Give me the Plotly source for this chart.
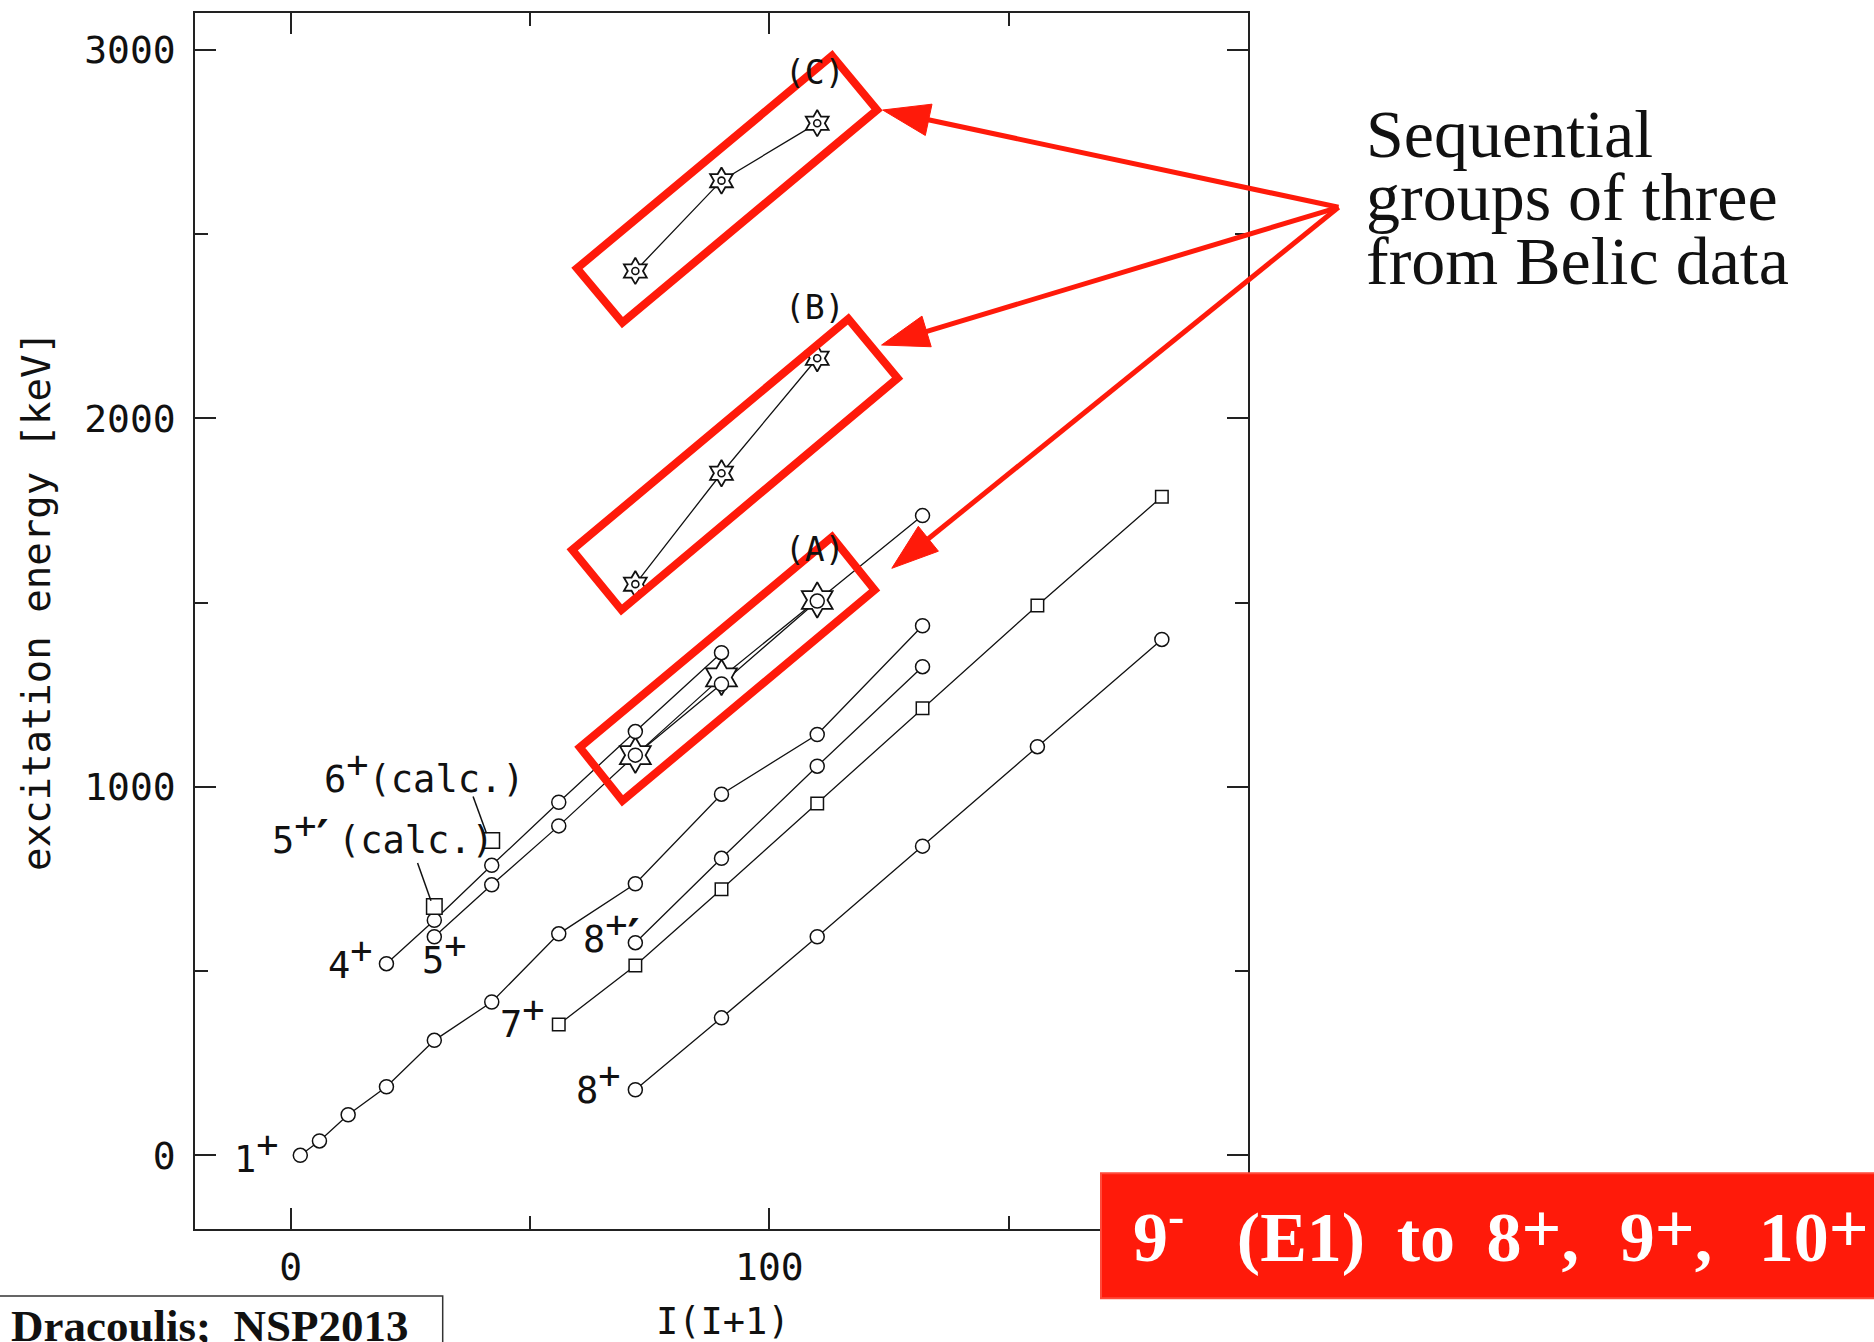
import math
import plotly.graph_objects as go

# ---------------------------------------------------------------------------
# Level energies (keV) versus I(I+1) for the 180Ta bands
# ---------------------------------------------------------------------------
band_1_x = [2, 6, 12, 20, 30, 42, 56, 72, 90, 110, 132]          # K=1+ band
band_1_e = [0, 39, 110, 186, 312, 416, 601, 737, 980, 1142, 1437]

band_4_x = [20, 30, 42, 56, 72, 90]                                # 4+ band
band_4_e = [520, 638, 787, 958, 1150, 1364]

band_5_x = [30, 42, 56, 72, 90, 110, 132]                          # 5+ band
band_5_e = [593, 734, 894, 1086, 1279, 1504, 1736]

band_8p_x = [72, 90, 110, 132]                                     # 8+' band
band_8p_e = [577, 806, 1056, 1326]

band_7_x = [56, 72, 90, 110, 132, 156, 182]                        # 7+ band
band_7_e = [355, 515, 722, 955, 1213, 1492, 1787]

band_8_x = [72, 90, 110, 132, 156, 182]                            # 8+ band
band_8_e = [178, 373, 593, 839, 1109, 1400]

calc_x = [30, 42]                                                  # 5+' and 6+ (calc.)
calc_e = [675, 854]

group_a_x = [72, 90, 110]                                          # Belic groups
group_a_e = [1086, 1297, 1507]
group_b_x = [72, 90, 110]
group_b_e = [1550, 1851, 2163]
group_c_x = [72, 90, 110]
group_c_e = [2400, 2645, 2801]

x_tick_vals = [0, 100]
x_tick_text = ["0", "100"]
y_tick_vals = [0, 1000, 2000, 3000]
y_tick_text = ["0", "1000", "2000", "3000"]

# ---------------------------------------------------------------------------
# Page geometry and styles
# ---------------------------------------------------------------------------
FIG_W, FIG_H = 1874, 1342
M_L, M_R, M_T, M_B = 195, 626, 13, 113
PLOT_W = FIG_W - M_L - M_R
PLOT_H = FIG_H - M_T - M_B

RED = "#FF1A0A"
INK = "#111111"
MONO = "DejaVu Sans Mono"
SERIF = "Liberation Serif"


def paper(x, y):
    """Page pixel position -> paper coordinates."""
    return (x - M_L) / PLOT_W, (M_T + PLOT_H - y) / PLOT_H


def up(t, shift=15):
    """Raised, full-size superscript."""
    return f"<span style='baseline-shift:{shift}px'>{t}</span>"


# prime mark padded to one monospace cell
PRIME = "<span style='font-family:DejaVu Sans;font-size:46px;font-weight:bold'>′\u2009</span>"

fig = go.Figure()

# connecting lines first, markers on top
line_sets = [
    (band_1_x, band_1_e), (band_4_x, band_4_e), (band_5_x, band_5_e),
    (band_8p_x, band_8p_e), (band_7_x, band_7_e), (band_8_x, band_8_e),
    (group_a_x, group_a_e), (group_b_x, group_b_e), (group_c_x, group_c_e),
]
for xs, es in line_sets:
    fig.add_trace(go.Scatter(x=xs, y=es, mode="lines",
                             line=dict(color=INK, width=1.3),
                             hoverinfo="skip"))

# six-pointed stars for the Belic groups
for xs, es, sz in [(group_a_x, group_a_e, 27), (group_b_x, group_b_e, 20),
                   (group_c_x, group_c_e, 20)]:
    fig.add_trace(go.Scatter(x=xs, y=es, mode="markers",
                             marker=dict(symbol="hexagram", size=sz, color="white",
                                         line=dict(color=INK, width=1.8))))
# ring at the centre of the small stars
for xs, es in [(group_b_x, group_b_e), (group_c_x, group_c_e)]:
    fig.add_trace(go.Scatter(x=xs, y=es, mode="markers",
                             marker=dict(symbol="circle", size=7, color="white",
                                         line=dict(color=INK, width=1.6))))

# circles and squares for the bands
for xs, es, sym, sz in [
    (band_1_x, band_1_e, "circle", 14), (band_4_x, band_4_e, "circle", 14),
    (band_5_x, band_5_e, "circle", 14), (band_8p_x, band_8p_e, "circle", 14),
    (band_8_x, band_8_e, "circle", 14), (band_7_x, band_7_e, "square", 12.5),
    (calc_x, calc_e, "square", 15.5),
]:
    fig.add_trace(go.Scatter(x=xs, y=es, mode="markers",
                             marker=dict(symbol=sym, size=sz, color="white",
                                         line=dict(color=INK, width=1.5))))

shapes = []

# red frames round the three groups (corner points in data units)
frames = [
    [(113.1, 2984), (122.5, 2837), (69.3, 2260), (59.8, 2407)],
    [(116.5, 2270), (126.8, 2109), (69.1, 1480), (58.8, 1643)],
    [(113.1, 1678), (122.0, 1534), (69.3, 962), (60.4, 1107)],
]
for pts in frames:
    path = "M " + " L ".join(f"{a},{b}" for a, b in pts) + " Z"
    shapes.append(dict(type="path", xref="x", yref="y", path=path,
                       line=dict(color=RED, width=8)))

# leader lines for the calculated levels
for x0, y0, x1, y1 in [(26.5, 793, 29.3, 691), (38.1, 974, 40.9, 874)]:
    shapes.append(dict(type="line", xref="x", yref="y", x0=x0, y0=y0, x1=x1, y1=y1,
                       line=dict(color=INK, width=1.5)))

# arrows from the note to the three frames
origin = (1338.5, 207.3)
tips = [(882.7, 110.0), (881.6, 345.0), (891.8, 568.3)]
head_len, head_half = 47.0, 16.0
for tx, ty in tips:
    dx, dy = tx - origin[0], ty - origin[1]
    n = math.hypot(dx, dy)
    ux, uy = dx / n, dy / n
    bx, by = tx - ux * head_len, ty - uy * head_len
    ex, ey = tx - ux * (head_len - 4), ty - uy * (head_len - 4)
    p0, p1 = paper(*origin), paper(ex, ey)
    shapes.append(dict(type="line", xref="paper", yref="paper",
                       x0=p0[0], y0=p0[1], x1=p1[0], y1=p1[1],
                       line=dict(color=RED, width=5)))
    c1 = paper(bx - uy * head_half, by + ux * head_half)
    c2 = paper(bx + uy * head_half, by - ux * head_half)
    t = paper(tx, ty)
    shapes.append(dict(type="path", xref="paper", yref="paper",
                       path=f"M {t[0]},{t[1]} L {c1[0]},{c1[1]} L {c2[0]},{c2[1]} Z",
                       fillcolor=RED, line=dict(color=RED, width=1)))

# red banner at the bottom right
b0, b1 = paper(1101, 1173.3), paper(1880, 1298.3)
shapes.append(dict(type="rect", xref="paper", yref="paper",
                   x0=b0[0], y0=b0[1], x1=b1[0], y1=b1[1],
                   fillcolor=RED, line=dict(color="#FF4A3A", width=2)))

# credit box at the bottom left
d0, d1 = paper(-3, 1296), paper(442.7, 1352)
shapes.append(dict(type="rect", xref="paper", yref="paper",
                   x0=d0[0], y0=d0[1], x1=d1[0], y1=d1[1],
                   fillcolor="rgba(0,0,0,0)", line=dict(color="#333333", width=1.5)))

ann = []


def label(x, y, text, xanchor="right", xshift=0, yshift=0, size=37, ref="x"):
    ann.append(dict(x=x, y=y, xref=ref, yref=ref.replace("x", "y"), text=text,
                    showarrow=False, xanchor=xanchor, yanchor="middle",
                    xshift=xshift, yshift=yshift,
                    font=dict(family=MONO, size=size, color=INK)))


label(2, 0, "1" + up("+"), xshift=-19, yshift=3)
label(20, 520, "4" + up("+"), xshift=-11, yshift=6)
label(30, 593, "5" + up("+"), xanchor="center", xshift=10, yshift=-16)
label(56, 355, "7" + up("+"), xshift=-12, yshift=7)
label(72, 577, "8" + up("+") + PRIME, xshift=16, yshift=10)
label(72, 178, "8" + up("+"), xshift=-12, yshift=7)
label(40.9, 856, "5" + up("+") + PRIME + "(calc.)", xshift=10, yshift=6)
label(48.2, 1027, "6" + up("+") + "(calc.)", xshift=6, yshift=5)
label(109.5, 1643, "(A)", xanchor="center", size=33)
label(109.5, 2301, "(B)", xanchor="center", size=33)
label(109.5, 2939, "(C)", xanchor="center", size=33)


def page_text(x, y, text, family, size, color=INK, xanchor="left", angle=0):
    px_, py_ = paper(x, y)
    ann.append(dict(x=px_, y=py_, xref="paper", yref="paper", text=text,
                    showarrow=False, xanchor=xanchor, yanchor="middle",
                    textangle=angle, font=dict(family=family, size=size, color=color)))


# axis titles
page_text(36, 601, "excitation energy [keV]", MONO, 39, xanchor="center", angle=-90)
page_text(723, 1321, "I(I+1)", MONO, 37, xanchor="center")

# note on the right
page_text(1364, 133.5, "Sequential", SERIF, 68)
page_text(1364, 197, "groups of three", SERIF, 68)
page_text(1364, 261, "from Belic data", SERIF, 68)

# banner text
nb, thin, hair = "\u00a0", "\u2009", "\u200a"
banner = ("<b>9<sup>-</sup>" + nb * 3 + "(E1)" + nb + thin + "to" + nb + thin + "8"
          + up("+", 9) + "," + nb * 2 + hair + "9" + up("+", 9) + "," + nb * 2
          + hair * 2 + "10" + up("+", 9) + "</b>")
page_text(1131, 1232, banner, SERIF, 70, color="white")

# credit
page_text(9, 1326, "<b>Dracoulis;" + nb * 2 + "NSP2013</b>", SERIF, 45)

axis_common = dict(showline=True, linecolor="#222222", linewidth=1.5, mirror="ticks",
                   ticks="inside", tickwidth=1.5, tickcolor="#222222", ticklen=21,
                   showgrid=False, zeroline=False,
                   tickfont=dict(family=MONO, size=38, color=INK))

fig.update_layout(
    width=FIG_W, height=FIG_H,
    margin=dict(l=M_L, r=M_R, t=M_T, b=M_B),
    paper_bgcolor="white", plot_bgcolor="white",
    showlegend=False,
    xaxis=dict(range=[-20, 200], tickvals=x_tick_vals, ticktext=x_tick_text,
               ticklabelstandoff=4,
               minor=dict(tickvals=[50, 150], ticks="inside", ticklen=13,
                          tickwidth=1.5, tickcolor="#222222"),
               **axis_common),
    yaxis=dict(range=[-200, 3100], tickvals=y_tick_vals, ticktext=y_tick_text,
               ticklabelstandoff=10,
               minor=dict(tickvals=[500, 1500, 2500], ticks="inside", ticklen=13,
                          tickwidth=1.5, tickcolor="#222222"),
               **axis_common),
    shapes=shapes,
    annotations=ann,
)

fig.write_html("out.html")
